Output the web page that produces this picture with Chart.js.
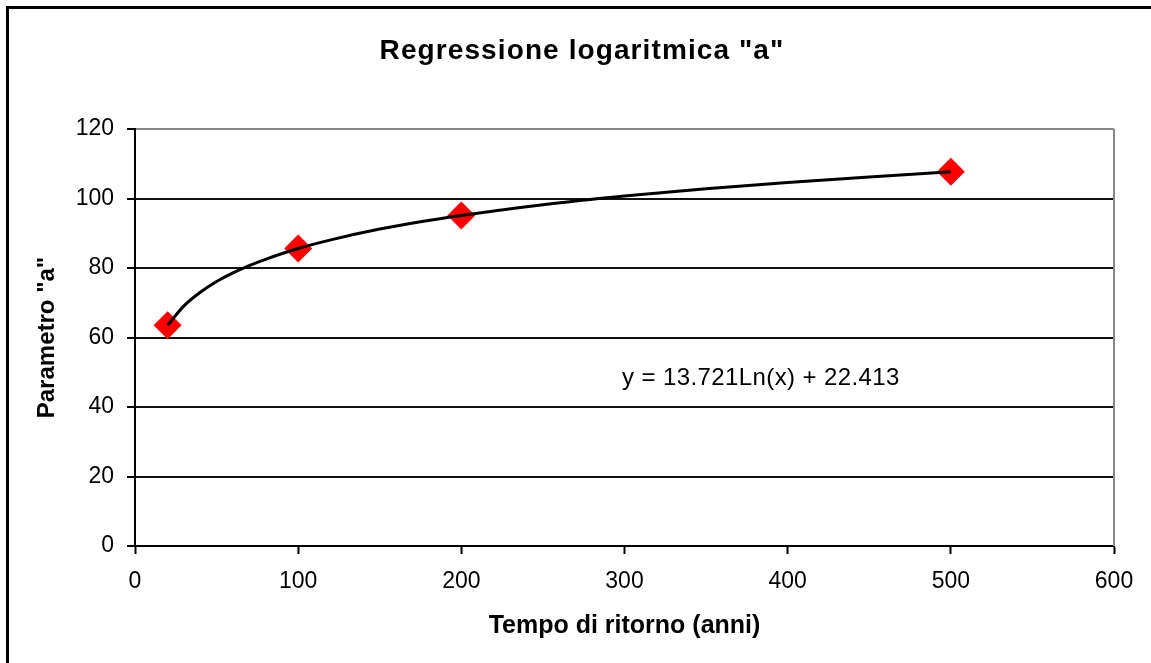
<!DOCTYPE html>
<html>
<head>
<meta charset="utf-8">
<script src="https://cdn.jsdelivr.net/npm/chart.js@4.4.1/dist/chart.umd.min.js"></script>
<style>
  html, body { margin: 0; padding: 0; background: #fff; }
  canvas { display: block; }
</style>
</head>
<body>
<canvas id="chart" width="1151" height="663"></canvas>
<script>
const FONT = '"Liberation Sans", Arial, sans-serif';

// Observed values of parameter "a" per return period
const returnPeriods = [20, 100, 200, 500];
const paramA = [63.5, 85.6, 95.1, 107.7];

// Logarithmic trendline
const trendX = [20, 30, 40, 50, 60, 70, 80, 100, 120, 150, 175, 200, 250, 300, 350, 400, 450, 500];
const trendY = [63.5, 69.1, 73.0, 76.1, 78.6, 80.7, 82.5, 85.6, 88.1, 91.2, 93.3, 95.1, 98.2, 100.7, 102.8, 104.6, 106.2, 107.7];

const xTicks = [0, 100, 200, 300, 400, 500, 600];
const yTicks = [0, 20, 40, 60, 80, 100, 120];

const chartTitle = 'Regressione logaritmica "a"';
const xTitle = 'Tempo di ritorno (anni)';
const yTitle = 'Parametro "a"';
const equationLabel = 'y = 13.721Ln(x) + 22.413';

const toPoints = (xs, ys) => xs.map((x, i) => ({ x, y: ys[i] }));

// Frame, plot border, title and equation text
const decorations = {
  id: 'decorations',
  beforeDatasetsDraw(chart) {
    const { ctx, chartArea: a } = chart;
    ctx.save();
    ctx.strokeStyle = '#888';
    ctx.lineWidth = 2;
    ctx.beginPath();
    ctx.moveTo(a.right, a.top);
    ctx.lineTo(a.right, a.bottom);
    ctx.stroke();
    ctx.restore();
  },
  afterDraw(chart) {
    const { ctx } = chart;
    ctx.save();
    ctx.strokeStyle = '#000';
    ctx.lineWidth = 3;
    ctx.beginPath();
    ctx.moveTo(7.5, chart.height);
    ctx.lineTo(7.5, 7.5);
    ctx.lineTo(chart.width, 7.5);
    ctx.stroke();

    ctx.fillStyle = '#000';
    ctx.textBaseline = 'alphabetic';
    ctx.textAlign = 'center';
    ctx.font = `bold 28px ${FONT}`;
    ctx.letterSpacing = '1.1px';
    ctx.fillText(chartTitle, 582, 59);

    ctx.letterSpacing = '0.4px';
    ctx.textAlign = 'left';
    ctx.font = `24px ${FONT}`;
    ctx.fillText(equationLabel, 622, 385);
    ctx.restore();
  }
};

new Chart(document.getElementById('chart'), {
  type: 'scatter',
  data: {
    datasets: [
      {
        label: 'Log. (a)',
        data: toPoints(trendX, trendY),
        showLine: true,
        borderColor: '#000',
        borderWidth: 3,
        pointRadius: 0,
        cubicInterpolationMode: 'monotone',
        order: 0,
      },
      {
        label: 'a',
        data: toPoints(returnPeriods, paramA),
        pointStyle: 'rectRot',
        pointRadius: 14,
        backgroundColor: '#ff0000',
        borderWidth: 0,
        order: 1,
      },
    ],
  },
  options: {
    responsive: false,
    animation: false,
    layout: { padding: { top: 129, right: 37, bottom: 0, left: 0 } },
    plugins: {
      legend: { display: false },
      tooltip: { enabled: false },
    },
    scales: {
      x: {
        type: 'linear',
        min: 0,
        max: 600,
        afterBuildTicks: (s) => { s.ticks = xTicks.map(v => ({ value: v })); },
        afterFit: (s) => { s.height = 117; },
        ticks: { color: '#000', font: { size: 23, family: FONT }, padding: 14, maxRotation: 0 },
        grid: { drawOnChartArea: false, drawTicks: true, tickLength: 8, tickColor: '#000', tickWidth: 2 },
        border: { color: '#000', width: 2 },
        title: {
          display: true,
          text: xTitle,
          color: '#000',
          font: { size: 25, weight: 'bold', family: FONT },
          padding: { top: 0, bottom: 22 },
        },
      },
      y: {
        type: 'linear',
        min: 0,
        max: 120,
        afterBuildTicks: (s) => { s.ticks = yTicks.map(v => ({ value: v })); },
        afterFit: (s) => { s.width = 135; },
        ticks: { color: '#000', font: { size: 23, family: FONT }, padding: 13 },
        grid: {
          color: (c) => (c.tick && c.tick.value === 120 ? '#888' : '#111'),
          lineWidth: 2,
          drawTicks: true,
          tickLength: 8,
          tickColor: '#000',
          tickWidth: 2,
        },
        border: { color: '#000', width: 2 },
        title: {
          display: true,
          text: yTitle,
          color: '#000',
          font: { size: 24, weight: 'bold', family: FONT },
          padding: { top: 33, bottom: 0 },
        },
      },
    },
  },
  plugins: [decorations],
});
</script>
</body>
</html>
